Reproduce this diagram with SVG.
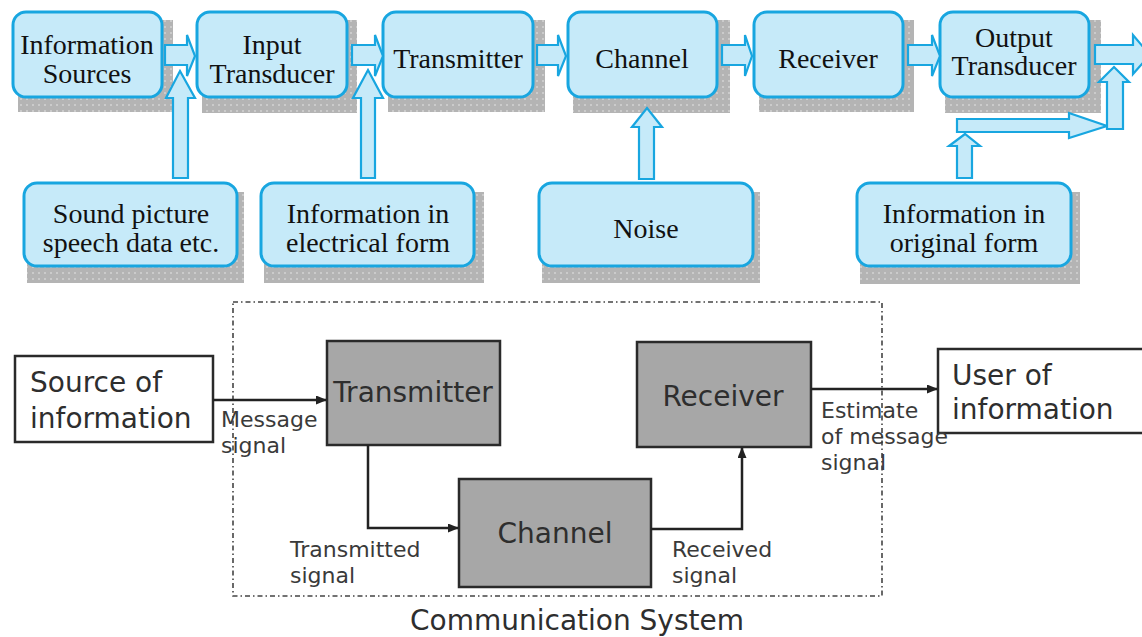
<svg xmlns="http://www.w3.org/2000/svg" width="1142" height="637" viewBox="0 0 1142 637">
<defs>
<pattern id="dots" width="6" height="6" patternUnits="userSpaceOnUse">
<rect width="6" height="6" fill="#B4B4B4"/>
<circle cx="3" cy="3" r="0.9" fill="#D6D6D6"/>
</pattern>
<marker id="ah" markerWidth="11" markerHeight="9" refX="10" refY="4.5" orient="auto" markerUnits="userSpaceOnUse">
<path d="M0,0 L11,4.5 L0,9 z" fill="#222"/>
</marker>
<style>
.box{fill:#C6EAF9;stroke:#18A6E0;stroke-width:3}
.shd{fill:url(#dots)}
.blk{fill:#C6EAF9;stroke:#18A6E0;stroke-width:2.2;stroke-linejoin:miter}
.st{font-family:"Liberation Serif","Times New Roman",serif;font-size:28px;fill:#111;text-anchor:middle}
.gbox{fill:#A7A7A7;stroke:#2A2A2A;stroke-width:2.5}
.wbox{fill:#FFFFFF;stroke:#2A2A2A;stroke-width:2.5}
.sb{font-family:"DejaVu Sans",Verdana,sans-serif;font-size:28px;fill:#2E2E2E}
.lb{font-family:"DejaVu Sans",Verdana,sans-serif;font-size:22px;fill:#3A3A3A}
.ln{fill:none;stroke:#222;stroke-width:2.5}
</style>
</defs>
<rect width="1142" height="637" fill="#FFFFFF"/>

<!-- top row shadows and boxes -->
<g id="info-sources">
<rect class="shd" x="18" y="20" width="155" height="92"/>
<rect class="box" x="13" y="12" width="149" height="85" rx="13"/>
<text class="st" x="87" y="54">Information</text>
<text class="st" x="87" y="83">Sources</text>
</g>
<g id="input-transducer">
<rect class="shd" x="202" y="20" width="155" height="93"/>
<rect class="box" x="197" y="12" width="150" height="85" rx="13"/>
<text class="st" x="272" y="54">Input</text>
<text class="st" x="272" y="83">Transducer</text>
</g>
<g id="transmitter">
<rect class="shd" x="388" y="20" width="157" height="92"/>
<rect class="box" x="383" y="12" width="150" height="85" rx="13"/>
<text class="st" x="458" y="68">Transmitter</text>
</g>
<g id="channel">
<rect class="shd" x="573" y="20" width="157" height="93"/>
<rect class="box" x="568" y="12" width="149" height="85" rx="13"/>
<text class="st" x="642" y="68">Channel</text>
</g>
<g id="receiver">
<rect class="shd" x="759" y="20" width="155" height="92"/>
<rect class="box" x="754" y="12" width="149" height="85" rx="13"/>
<text class="st" x="828" y="68">Receiver</text>
</g>
<g id="output-transducer">
<rect class="shd" x="945" y="20" width="156" height="93"/>
<rect class="box" x="940" y="12" width="149" height="85" rx="13"/>
<text class="st" x="1014" y="47">Output</text>
<text class="st" x="1014" y="75">Transducer</text>
</g>

<!-- bottom row of top diagram -->
<g id="sound-picture">
<rect class="shd" x="27" y="192" width="217" height="91"/>
<rect class="box" x="24" y="183" width="213" height="83" rx="13"/>
<text class="st" x="131" y="223">Sound picture</text>
<text class="st" x="131" y="252">speech data etc.</text>
</g>
<g id="info-electrical">
<rect class="shd" x="264" y="192" width="220" height="91"/>
<rect class="box" x="261" y="183" width="213" height="83" rx="13"/>
<text class="st" x="368" y="223">Information in</text>
<text class="st" x="368" y="252">electrical form</text>
</g>
<g id="noise">
<rect class="shd" x="542" y="192" width="218" height="91"/>
<rect class="box" x="539" y="183" width="214" height="83" rx="13"/>
<text class="st" x="646" y="238">Noise</text>
</g>
<g id="info-original">
<rect class="shd" x="860" y="192" width="220" height="92"/>
<rect class="box" x="857" y="183" width="214" height="83" rx="13"/>
<text class="st" x="964" y="223">Information in</text>
<text class="st" x="964" y="252">original form</text>
</g>

<!-- top diagram block arrows -->
<g id="block-arrows">
<polygon class="blk" points="165,45 187,45 187,35 195,56 187,76 187,65 165,65"/>
<polygon class="blk" points="352,45 375,45 375,35 383,56 375,76 375,65 352,65"/>
<polygon class="blk" points="537,45 558,45 558,35 566,56 558,76 558,65 537,65"/>
<polygon class="blk" points="722,45 745,45 745,35 752,56 745,76 745,65 722,65"/>
<polygon class="blk" points="908,45 932,45 932,35 940,56 932,76 932,65 908,65"/>
<polygon class="blk" points="1095,45 1133,45 1133,35 1150,55 1133,74 1133,64 1095,64"/>
<polygon class="blk" points="173,178 173,98 166,98 180,71 195,98 188,98 188,178"/>
<polygon class="blk" points="361,178 361,98 353,98 368,70 383,98 375,98 375,178"/>
<polygon class="blk" points="639,179 639,127 632,127 647,108 662,127 654,127 654,179"/>
<polygon class="blk" points="957,119 1069,119 1069,113 1107,126 1069,138 1069,132 957,132"/>
<polygon class="blk" points="1107,129 1107,82 1099,82 1114,67 1129,82 1123,82 1123,129"/>
<polygon class="blk" points="957,178 957,146 949,146 965,134 980,146 972,146 972,178"/>
</g>

<!-- lower diagram -->
<g id="comm-system">
<rect x="233" y="302" width="649" height="294" fill="none" stroke="#444" stroke-width="1.6" stroke-dasharray="5 3 1.5 3"/>
<text class="sb" x="577" y="630" text-anchor="middle" font-size="27">Communication System</text>
</g>
<g id="source">
<rect class="wbox" x="15" y="356" width="198" height="86"/>
<text class="sb" x="30" y="392">Source of</text>
<text class="sb" x="30" y="428">information</text>
</g>
<g id="transmitter2">
<rect class="gbox" x="327" y="341" width="173" height="104"/>
<text class="sb" x="413" y="402" text-anchor="middle">Transmitter</text>
</g>
<g id="channel2">
<rect class="gbox" x="459" y="479" width="192" height="108"/>
<text class="sb" x="555" y="543" text-anchor="middle">Channel</text>
</g>
<g id="receiver2">
<rect class="gbox" x="637" y="342" width="174" height="105"/>
<text class="sb" x="723" y="406" text-anchor="middle">Receiver</text>
</g>
<g id="user">
<rect class="wbox" x="938" y="349" width="215" height="84"/>
<text class="sb" x="952" y="385">User of</text>
<text class="sb" x="952" y="419">information</text>
</g>

<g id="connectors">
<path class="ln" d="M213,400 H326" marker-end="url(#ah)"/>
<path class="ln" d="M368,445 V528 H458" marker-end="url(#ah)"/>
<path class="ln" d="M651,529 H742 V448" marker-end="url(#ah)"/>
<path class="ln" d="M811,389 H937" marker-end="url(#ah)"/>
<text class="lb" x="221" y="427">Message</text>
<text class="lb" x="221" y="453">signal</text>
<text class="lb" x="821" y="418">Estimate</text>
<text class="lb" x="821" y="444">of message</text>
<text class="lb" x="821" y="470">signal</text>
<text class="lb" x="290" y="557">Transmitted</text>
<text class="lb" x="290" y="583">signal</text>
<text class="lb" x="672" y="557">Received</text>
<text class="lb" x="672" y="583">signal</text>
</g>
</svg>
